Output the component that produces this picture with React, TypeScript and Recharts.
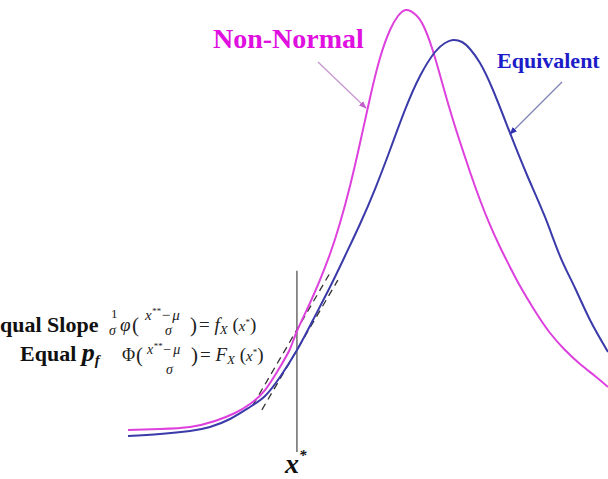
import React from 'react';
import { LineChart, Line, XAxis, YAxis, ReferenceLine } from 'recharts';

// Non-normal density (magenta)
const nonNormalX = [0.264, 0.913, 1.521, 2.028, 2.434, 2.738, 3.043, 3.347, 3.55, 3.692, 3.955, 4.158, 4.361, 4.564, 4.767, 4.97, 5.172, 5.375, 5.578, 5.74, 5.903, 6.105, 6.268, 6.43, 6.592, 6.795, 6.998, 7.201, 7.404, 7.606, 7.809, 8.012, 8.215, 8.519, 8.824, 9.128, 9.432, 9.736, 10.0];
const nonNormalY = [0.0495, 0.0518, 0.0563, 0.0698, 0.0878, 0.1081, 0.1396, 0.1914, 0.232, 0.2725, 0.3356, 0.3874, 0.4459, 0.5158, 0.5991, 0.6959, 0.7973, 0.8874, 0.9505, 0.982, 0.9955, 0.9842, 0.9572, 0.9099, 0.8491, 0.7703, 0.6982, 0.6306, 0.5676, 0.5113, 0.4617, 0.4167, 0.3739, 0.3176, 0.268, 0.2297, 0.1982, 0.1712, 0.1464];

// Equivalent normal density (blue)
const equivX = [0.264, 0.913, 1.521, 1.927, 2.333, 2.738, 3.043, 3.347, 3.692, 4.016, 4.361, 4.665, 4.97, 5.274, 5.578, 5.882, 6.187, 6.491, 6.694, 6.856, 7.039, 7.201, 7.404, 7.667, 8.012, 8.357, 8.722, 9.026, 9.331, 9.635, 10.0];
const equivY = [0.036, 0.0405, 0.0473, 0.0563, 0.0743, 0.1014, 0.1261, 0.1689, 0.2297, 0.2973, 0.3716, 0.4414, 0.5135, 0.5923, 0.6802, 0.7703, 0.8468, 0.9009, 0.9212, 0.9279, 0.9234, 0.9077, 0.8761, 0.8153, 0.7185, 0.6239, 0.5293, 0.4414, 0.3694, 0.2973, 0.2252];

// tangent lines at x*
const tangentAX = [2.8, 4.36];
const tangentAY = [0.106, 0.403];
const tangentBX = [2.98, 4.52];
const tangentBY = [0.095, 0.387];

const xStar = 3.69;
const xStarTop = 0.408;

const toPoints = (xs: number[], ys: number[]) => xs.map((x, i) => ({ x, y: ys[i] }));

const nonNormal = toPoints(nonNormalX, nonNormalY);
const equiv = toPoints(equivX, equivY);
const tangentA = toPoints(tangentAX, tangentAY);
const tangentB = toPoints(tangentBX, tangentBY);

const MAGENTA = '#dd40dd';
const BLUE = '#3a3aaa';
const SERIF = '"Liberation Serif", "Times New Roman", serif';

const Annotations: React.FC = () => (
  <svg width={608} height={479} style={{ position: 'absolute', left: 0, top: 0, pointerEvents: 'none' }}>
    <defs>
      <marker id="headPink" markerWidth="8" markerHeight="8" refX="7" refY="4" orient="auto" markerUnits="userSpaceOnUse">
        <path d="M0,1 L8,4 L0,7 z" fill="#c060c8" />
      </marker>
      <marker id="headBlue" markerWidth="8" markerHeight="8" refX="7" refY="4" orient="auto" markerUnits="userSpaceOnUse">
        <path d="M0,1 L8,4 L0,7 z" fill="#3030b0" />
      </marker>
    </defs>

    <text x={213} y={48} fill="#e010e0" fontFamily={SERIF} fontWeight="bold" fontSize={28}>Non-Normal</text>
    <line x1={318} y1={62} x2={366} y2={108} stroke="#c898d0" strokeWidth={1.3} markerEnd="url(#headPink)" />

    <text x={497} y={68} fill="#1c1cc8" fontFamily={SERIF} fontWeight="bold" fontSize={22}>Equivalent</text>
    <line x1={562} y1={82} x2={510} y2={134} stroke="#8080b8" strokeWidth={1.3} markerEnd="url(#headBlue)" />

    {/* Equal slope */}
    <text x={0} y={332} fill="#111" fontFamily={SERIF} fontWeight="bold" fontSize={22}>qual Slope</text>
    <g fontFamily={SERIF} fill="#222">
      <text x={111} y={318} fontSize={13}>1</text>
      <text x={109} y={335} fontSize={14} fontStyle="italic">σ</text>
      <text x={120} y={331} fontSize={19} fontStyle="italic">φ</text>
      <text x={132} y={332} fontSize={21}>(</text>
      <text x={145} y={320} fontSize={15} fontStyle="italic">x<tspan fontSize={9} dy={-6}>**</tspan><tspan dy={6} dx={1} fontStyle="normal">−</tspan><tspan dx={2}>μ</tspan></text>
      <text x={165} y={335} fontSize={14} fontStyle="italic">σ</text>
      <text x={190} y={332} fontSize={21}>)</text>
      <text x={199} y={331} fontSize={19}>= <tspan fontStyle="italic">f</tspan><tspan fontSize={13} dy={3} fontStyle="italic">X</tspan><tspan dy={-3}> (</tspan><tspan fontStyle="italic" fontSize={15}>x</tspan><tspan fontSize={9} dy={-6}>*</tspan><tspan dy={6}>)</tspan></text>
    </g>

    {/* Equal pf */}
    <text x={20} y={361} fill="#111" fontFamily={SERIF} fontWeight="bold" fontSize={22}>Equal <tspan fontStyle="italic" fontSize={26}>p</tspan><tspan fontStyle="italic" fontSize={15} dy={4}>f</tspan></text>
    <g fontFamily={SERIF} fill="#222">
      <text x={122} y={361} fontSize={18}>Φ</text>
      <text x={136} y={362} fontSize={21}>(</text>
      <text x={147} y={354} fontSize={14} fontStyle="italic">x<tspan fontSize={9} dy={-5}>**</tspan><tspan dy={5} dx={1} fontStyle="normal">−</tspan><tspan dx={2}>μ</tspan></text>
      <text x={166} y={374} fontSize={14} fontStyle="italic">σ</text>
      <text x={191} y={362} fontSize={21}>)</text>
      <text x={200} y={361} fontSize={19}>= <tspan fontStyle="italic">F</tspan><tspan fontSize={13} dy={3} fontStyle="italic">X</tspan><tspan dy={-3}> (</tspan><tspan fontStyle="italic" fontSize={15}>x</tspan><tspan fontSize={9} dy={-6}>*</tspan><tspan dy={6}>)</tspan></text>
    </g>

    {/* x* label */}
    <text x={285} y={473} fill="#111" fontFamily={SERIF} fontWeight="bold" fontStyle="italic" fontSize={28}>x<tspan fontSize={15} dy={-13}>*</tspan></text>
  </svg>
);

export default function App() {
  return (
    <div style={{ position: 'absolute', left: 0, top: 0, width: 608, height: 479, background: '#fff' }}>
      <LineChart width={608} height={479} margin={{ top: 8, right: 0, left: 115, bottom: 27 }}>
        <XAxis
          type="number"
          dataKey="x"
          domain={[0, 10]}
          allowDataOverflow
          height={0}
          tick={false}
          tickLine={false}
          axisLine={{ stroke: '#8a8a8a', strokeWidth: 2 }}
        />
        <YAxis type="number" dataKey="y" domain={[0, 1]} hide allowDataOverflow />
        <ReferenceLine
          segment={[{ x: xStar, y: 0 }, { x: xStar, y: xStarTop }]}
          stroke="#6a6a6a"
          strokeWidth={1.5}
        />
        <Line data={tangentA} dataKey="y" type="linear" stroke="#333" strokeWidth={1.3} strokeDasharray="7 5" dot={false} isAnimationActive={false} />
        <Line data={tangentB} dataKey="y" type="linear" stroke="#333" strokeWidth={1.3} strokeDasharray="7 5" dot={false} isAnimationActive={false} />
        <Line data={nonNormal} dataKey="y" type="natural" stroke={MAGENTA} strokeWidth={2} dot={false} isAnimationActive={false} />
        <Line data={equiv} dataKey="y" type="natural" stroke={BLUE} strokeWidth={2} dot={false} isAnimationActive={false} />
      </LineChart>
      <Annotations />
    </div>
  );
}
